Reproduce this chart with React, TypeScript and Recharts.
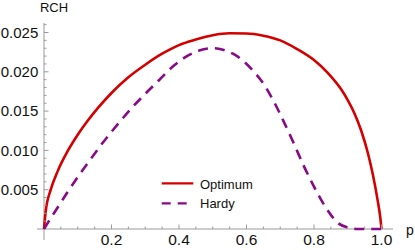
import React from 'react';
import { LineChart, Line, XAxis, YAxis, ReferenceLine, Legend } from 'recharts';

// Optimum curve (red, solid)
const optimumP = [0, 0.005, 0.02, 0.04, 0.07, 0.1, 0.13, 0.16, 0.2, 0.25, 0.3, 0.35, 0.4, 0.45, 0.5, 0.55, 0.6, 0.65, 0.7, 0.75, 0.8, 0.84, 0.88, 0.9, 0.92, 0.94, 0.96, 0.975, 0.988, 0.996, 1.0];
const optimumRCH = [0, 0.0022, 0.005, 0.0073, 0.0099, 0.012, 0.0138, 0.0154, 0.0173, 0.0193, 0.0209, 0.0223, 0.0234, 0.0241, 0.02465, 0.0249, 0.02488, 0.0246, 0.024, 0.0229, 0.0215, 0.0199, 0.0178, 0.0164, 0.0147, 0.0125, 0.0096, 0.0068, 0.0038, 0.0016, 0];

// Hardy curve (purple, dashed)
const hardyP = [0, 0.013, 0.04, 0.07, 0.1, 0.14, 0.18, 0.22, 0.26, 0.3, 0.34, 0.38, 0.42, 0.46, 0.5, 0.53, 0.56, 0.59, 0.62, 0.65, 0.68, 0.71, 0.74, 0.77, 0.8, 0.82, 0.85, 0.87, 0.9, 0.93, 1.0];
const hardyRCH = [0, 0.0009, 0.0027, 0.0047, 0.0066, 0.009, 0.0113, 0.0134, 0.0154, 0.0172, 0.0189, 0.0206, 0.0219, 0.0227, 0.023, 0.0228, 0.0223, 0.0214, 0.0201, 0.0185, 0.0163, 0.0137, 0.0109, 0.008, 0.0054, 0.0038, 0.0018, 0.0008, 0.0002, 0, 0];

const xTicks = [0.05, 0.1, 0.15, 0.2, 0.25, 0.3, 0.35, 0.4, 0.45, 0.5, 0.55, 0.6, 0.65, 0.7, 0.75, 0.8, 0.85, 0.9, 0.95, 1.0];
const xLabels = ['0.2', '0.4', '0.6', '0.8', '1.0'];
const yTicks = [0.001, 0.002, 0.003, 0.004, 0.005, 0.006, 0.007, 0.008, 0.009, 0.01, 0.011, 0.012, 0.013, 0.014, 0.015, 0.016, 0.017, 0.018, 0.019, 0.02, 0.021, 0.022, 0.023, 0.024, 0.025, 0.026];
const yLabels = ['0.005', '0.010', '0.015', '0.020', '0.025'];
const legendOrder = ['Optimum', 'Hardy'];

const optimumData = optimumP.map((p, i) => ({ p, rch: optimumRCH[i] }));
const hardyData = hardyP.map((p, i) => ({ p, rch: hardyRCH[i] }));

const W = 415;
const H = 250;
const MARGIN = { top: 23, right: 22, bottom: 0, left: 7 };
const X_AXIS_H = 10;
const Y_AXIS_W = 30;
const X_DOMAIN: [number, number] = [-0.0207, 1.0341];
const Y_DOMAIN: [number, number] = [-0.0014, 0.02621];

const PLOT_LEFT = MARGIN.left + Y_AXIS_W;
const PLOT_W = W - PLOT_LEFT - MARGIN.right;
const PLOT_H = H - MARGIN.top - MARGIN.bottom - X_AXIS_H;
// pixel position of the axes crossing (origin)
const X0 = PLOT_LEFT + (PLOT_W * (0 - X_DOMAIN[0])) / (X_DOMAIN[1] - X_DOMAIN[0]);
const Y0 = MARGIN.top + (PLOT_H * Y_DOMAIN[1]) / (Y_DOMAIN[1] - Y_DOMAIN[0]);

const AXIS = '#9a9a9a';
const FONT = '"Liberation Sans", Arial, sans-serif';
const RED = '#d40000';
const PURPLE = '#870a87';
const DASH = '10 7';

const XTick = (props: any) => {
  const { x, payload } = props;
  const label = xLabels.find((l) => Math.abs(parseFloat(l) - payload.value) < 1e-6);
  return (
    <g>
      <line x1={x} x2={x} y1={Y0} y2={Y0 - (label ? 4.5 : 2.5)} stroke={AXIS} strokeWidth={1} />
      {label && (
        <text x={x} y={Y0 + 16} textAnchor="middle" fontSize={15.5} fontFamily={FONT} fill="#111">
          {label}
        </text>
      )}
    </g>
  );
};

const YTick = (props: any) => {
  const { y, payload } = props;
  const label = yLabels.find((l) => Math.abs(parseFloat(l) - payload.value) < 1e-7);
  return (
    <g>
      <line x1={X0} x2={X0 + (label ? 4.5 : 2.5)} y1={y} y2={y} stroke={AXIS} strokeWidth={1} />
      {label && (
        <text x={X0 - 5.7} y={y + 5.3} textAnchor="end" fontSize={15} fontFamily={FONT} fill="#111">
          {label}
        </text>
      )}
    </g>
  );
};

const renderLegend = (props: any) => {
  const { payload = [] } = props;
  const items = legendOrder.map((name) => payload.find((e: any) => e.value === name)).filter(Boolean);
  return (
    <svg width={110} height={45}>
      {items.map((entry: any, i: number) => (
        <g key={entry.value}>
          <line
            x1={6.7}
            x2={38.3}
            y1={13.3 + i * 20}
            y2={13.3 + i * 20}
            stroke={entry.color}
            strokeWidth={2.2}
            strokeDasharray={entry.value === 'Hardy' ? '9 7' : undefined}
          />
          <text x={45} y={18.7 + i * 19} fontSize={13} fontFamily={FONT} fill="#111">
            {entry.value}
          </text>
        </g>
      ))}
    </svg>
  );
};

export default function App() {
  return (
    <div style={{ position: 'absolute', left: 0, top: 0, width: W, height: H, background: '#fff' }}>
      <LineChart width={W} height={H} margin={MARGIN}>
        <XAxis
          type="number"
          dataKey="p"
          domain={X_DOMAIN}
          allowDataOverflow
          ticks={xTicks}
          interval={0}
          height={X_AXIS_H}
          axisLine={false}
          tickLine={false}
          tick={XTick}
        />
        <YAxis
          type="number"
          dataKey="rch"
          domain={Y_DOMAIN}
          allowDataOverflow
          ticks={yTicks}
          interval={0}
          width={Y_AXIS_W}
          axisLine={false}
          tickLine={false}
          tick={YTick}
        />
        <ReferenceLine
          x={0}
          stroke={AXIS}
          strokeWidth={1}
          label={(p: any) => (
            <text x={p.viewBox.x - 4} y={p.viewBox.y - 11.5} fontSize={13} fontFamily={FONT} fill="#111">
              RCH
            </text>
          )}
        />
        <ReferenceLine
          y={0}
          stroke={AXIS}
          strokeWidth={1}
          label={(p: any) => (
            <text x={p.viewBox.x + p.viewBox.width + 13} y={p.viewBox.y + 6} fontSize={14} fontFamily={FONT} fill="#111">
              p
            </text>
          )}
        />
        <Line
          data={optimumData}
          dataKey="rch"
          name="Optimum"
          type="monotone"
          stroke={RED}
          strokeWidth={2.6}
          dot={false}
          activeDot={false}
          isAnimationActive={false}
        />
        <Line
          data={hardyData}
          dataKey="rch"
          name="Hardy"
          type="monotone"
          stroke={PURPLE}
          strokeWidth={2.6}
          strokeDasharray={DASH}
          dot={false}
          activeDot={false}
          isAnimationActive={false}
        />
        <Legend
          layout="vertical"
          align="center"
          verticalAlign="middle"
          content={renderLegend}
          wrapperStyle={{ position: 'absolute', left: 155, top: 170, width: 110, height: 45 }}
        />
      </LineChart>
    </div>
  );
}
